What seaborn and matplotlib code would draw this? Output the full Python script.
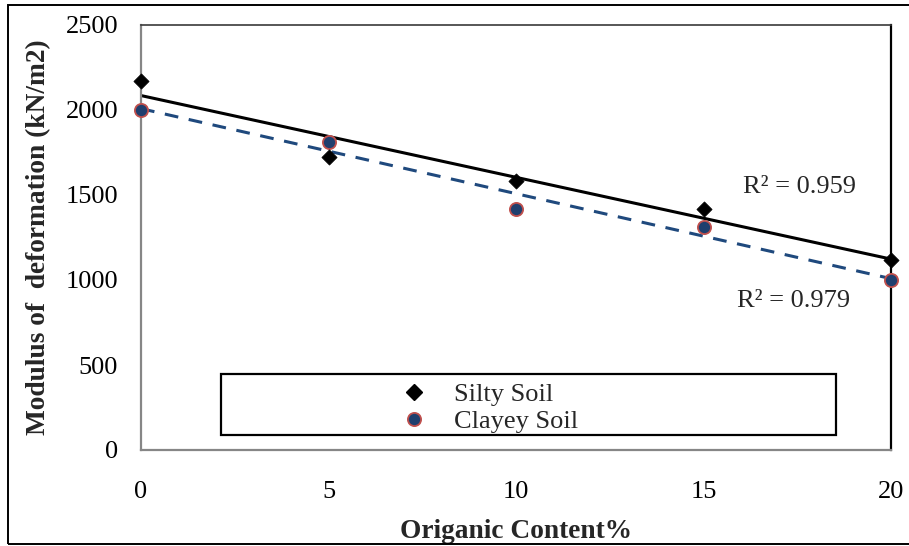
import matplotlib
matplotlib.use("Agg")
import matplotlib.pyplot as plt
from matplotlib.lines import Line2D
from matplotlib.patches import Rectangle
import seaborn as sns
import pandas as pd

# Organic content (%) and measured modulus of deformation (kN/m2)
organic_content = [0, 5, 10, 15, 20]
silty_soil = [2170, 1725, 1585, 1420, 1120]
clayey_soil = [2000, 1810, 1420, 1310, 1000]
r2_labels = ["R\u00b2 = 0.959", "R\u00b2 = 0.979"]
y_ticks = [0, 500, 1000, 1500, 2000, 2500]
x_ticks = [0, 5, 10, 15, 20]

df = pd.DataFrame({"oc": organic_content, "silty": silty_soil, "clayey": clayey_soil})

sns.set_style("white")
plt.rcParams["font.family"] = ["Liberation Serif", "DejaVu Serif"]

fig = plt.figure(figsize=(9.09, 5.46), dpi=100)
ax = fig.add_axes([141 / 909, 96 / 546, 750 / 909, 425 / 546])

navy = "#1F3F6E"
dash_navy = "#1F497D"
edge_red = "#C0504D"
axis_gray = "#868686"

# linear trendlines
sns.regplot(data=df, x="oc", y="silty", scatter=False, ci=None, truncate=True, ax=ax,
            line_kws=dict(color="black", lw=2.2, zorder=2))
sns.regplot(data=df, x="oc", y="clayey", scatter=False, ci=None, truncate=True, ax=ax,
            line_kws=dict(color=dash_navy, lw=2.2, ls=(0, (4.5, 3.5)), zorder=2))

# measured points
sns.scatterplot(data=df, x="oc", y="silty", marker="D", s=60, color="black",
                edgecolor="black", linewidth=0.5, ax=ax, zorder=4, clip_on=False)
sns.scatterplot(data=df, x="oc", y="clayey", marker="o", s=90, color=navy,
                edgecolor=edge_red, linewidth=1.3, ax=ax, zorder=3, clip_on=False)

ax.set_xlim(0, 20)
ax.set_ylim(0, 2500)
ax.set_xticks(x_ticks)
ax.set_yticks(y_ticks)
ax.tick_params(axis="both", direction="out", length=5.5, width=1.2, color=axis_gray,
               labelsize=19, labelcolor="black")
ax.tick_params(axis="y", pad=11)
ax.tick_params(axis="x", pad=17)

for side in ("left", "bottom"):
    ax.spines[side].set_color(axis_gray)
    ax.spines[side].set_linewidth(1.6)
ax.spines["top"].set_color("#3a3a3a")
ax.spines["top"].set_linewidth(1.2)
ax.spines["right"].set_color("black")
ax.spines["right"].set_linewidth(1.6)

ax.set_xlabel("Origanic Content%", fontsize=19.7, fontweight="bold", labelpad=11)
ax.set_ylabel("Modulus of  deformation (kN/m2)", fontsize=19.7, fontweight="bold", labelpad=10)

ax.text(16.05, 1547, r2_labels[0], fontsize=19, va="center", ha="left")
ax.text(15.9, 876, r2_labels[1], fontsize=19, va="center", ha="left")

# legend box with centred entries
ax.add_patch(Rectangle((0.1067, 0.0353), 0.82, 0.1435, transform=ax.transAxes,
                       facecolor="white", edgecolor="black", lw=1.6, zorder=5))
handles = [
    Line2D([], [], ls="none", marker="D", markersize=8, color="black"),
    Line2D([], [], ls="none", marker="o", markersize=9.5, markerfacecolor=navy,
           markeredgecolor=edge_red, markeredgewidth=1.3),
]
leg = ax.legend(handles, ["Silty Soil", "Clayey Soil"], loc="center left",
                bbox_to_anchor=(0.3293, 0.099), frameon=False, fontsize=19,
                handlelength=1.0, handletextpad=1.0, borderpad=0, labelspacing=0.13)
leg.set_zorder(6)

# outer chart border
fig.add_artist(Rectangle((8 / 909, 2 / 546), 1.0, 539 / 546, transform=fig.transFigure,
                         fill=False, edgecolor="black", lw=1.4))

fig.savefig("out.png", dpi=100)
